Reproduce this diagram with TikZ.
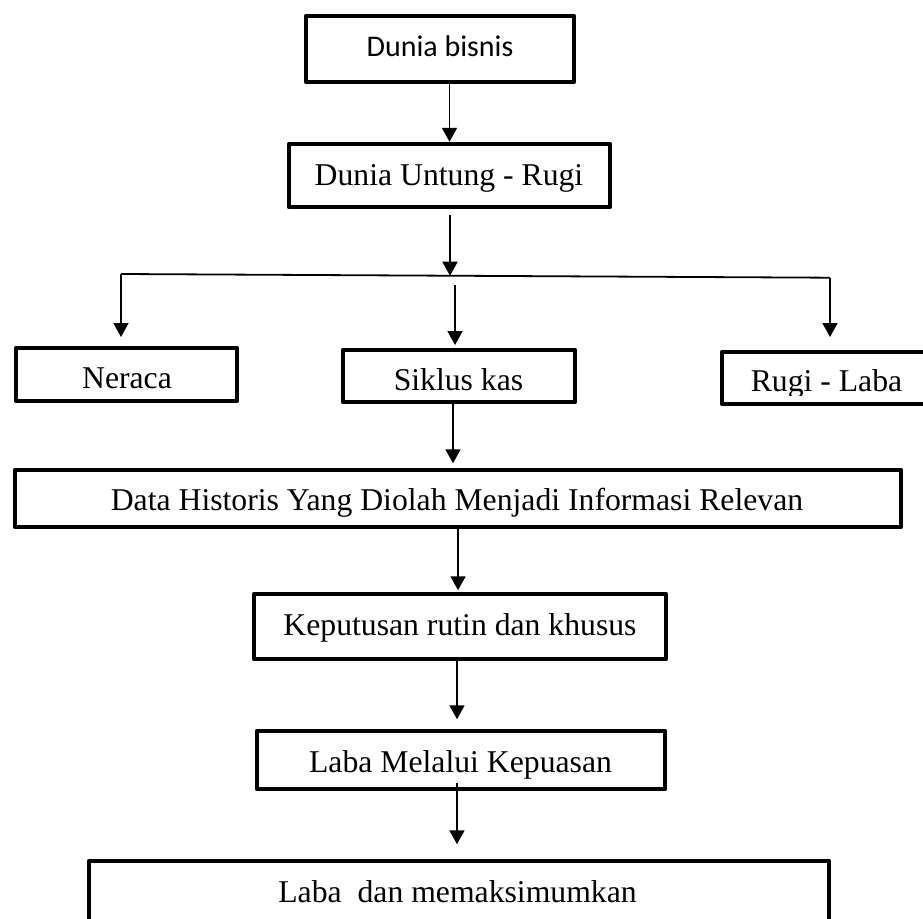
\documentclass[tikz,border=0pt]{standalone}
\usepackage{fontspec}
\setmainfont{Liberation Serif}
\newfontfamily\labelsans{Carlito}
\usetikzlibrary{arrows.meta,calc}
\begin{document}
\begin{tikzpicture}[x=1pt,y=-1pt,
  box/.style={draw, line width=4.5pt, line join=round, inner sep=0pt, outer sep=2.25pt},
  lbl/.style={anchor=base, inner sep=0pt, font=\fontsize{31.7}{36}\selectfont},
  arr/.style={line width=1.8pt, -{Triangle[width=15pt,length=14pt]}},
  link/.style={line width=1.8pt}
]
\useasboundingbox (0,0) rectangle (923,918);
\clip (0,0) rectangle (923,918);
\fill[white] (0,0) rectangle (923,918);

% boxes
\node[box, minimum width=268pt, minimum height=66pt] (b1) at (440,49) {};
\node[box, minimum width=321pt, minimum height=63pt] (b2) at (449.5,175.5) {};
\node[box, minimum width=221pt, minimum height=53pt] (nr) at (126.5,374.5) {};
\node[box, minimum width=232pt, minimum height=52pt] (sk) at (459,376) {};
\node[box, minimum width=208pt, minimum height=52pt] (rl) at (826,378) {};
\node[box, minimum width=886pt, minimum height=57pt] (dt) at (458,498.5) {};
\node[box, minimum width=412pt, minimum height=65pt] (kp) at (460,626.5) {};
\node[box, minimum width=408pt, minimum height=58pt] (lm) at (461,760) {};
\node[box, minimum width=740pt, minimum height=79pt] (lb) at (459,900.5) {};

% labels
\node[lbl, font=\labelsans\fontsize{30}{36}\selectfont] (t1) at (440,56) {Dunia bisnis};
\node[lbl] (t2) at (449,185) {Dunia Untung - Rugi};
\node[lbl] (t3) at (127,388) {Neraca};
\node[lbl] (t4) at (458.5,390) {Siklus kas};
\begin{scope}
  \clip (700,340) rectangle (923,395);
  \node[lbl] (t5) at (826.5,391) {Rugi - Laba};
\end{scope}
\node[lbl] (t6) at (457,510) {Data Historis Yang Diolah Menjadi Informasi Relevan};
\node[lbl] (t7) at (460,635) {Keputusan rutin dan khusus};
\node[lbl] (t8) at (460.5,772) {Laba Melalui Kepuasan};
\node[lbl] (t9) at (457.5,902) {Laba\ \ dan memaksimumkan};

% connectors
\draw[arr] (b1.south -| b2.north) -- (b2.north);
\coordinate (hl) at (121,274);
\coordinate (hm) at (450,275.7);
\coordinate (hr) at (830,277.7);
\draw[arr] ($(b2.south)+(0.5,6)$) -- (hm);
\draw[link] (hl) -- (hr);
\coordinate (nrtip) at (121,337);
\coordinate (skfrom) at (455,285);
\coordinate (sktip) at (455,345);
\coordinate (rltip) at (830,337);
\draw[arr] (hl) -- (nrtip);
\draw[arr] (skfrom) -- (sktip);
\draw[arr] (hr) -- (rltip);
\draw[arr] ([xshift=-6pt]sk.south) -- ++(0,59);
\draw[arr] (dt.south) -- ++(0,61);
\draw[arr] ([xshift=-3pt]kp.south) -- ++(0,58);
\draw[arr] ([xshift=-4pt,yshift=8pt]lm.south) -- ++(0,61);
\end{tikzpicture}
\end{document}
